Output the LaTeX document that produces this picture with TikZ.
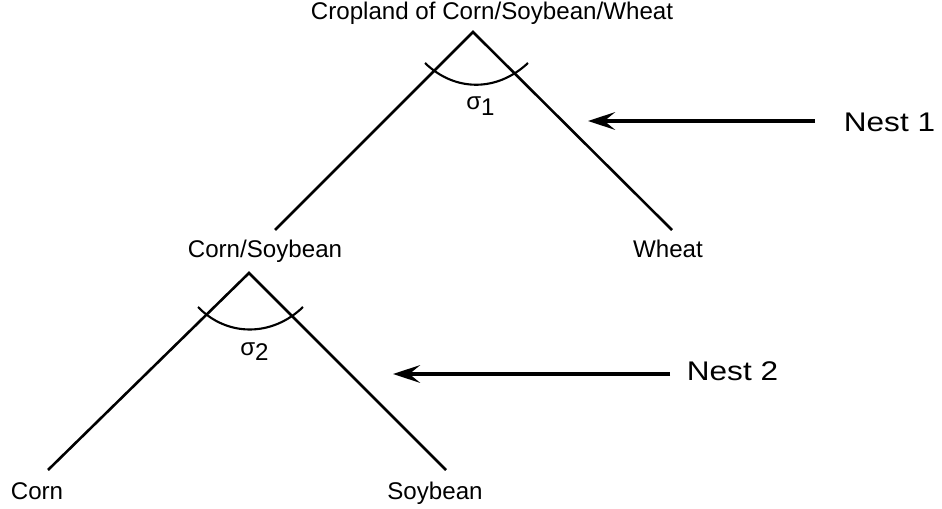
\documentclass[tikz,border=0pt]{standalone}
\usepackage{fontspec}
\setmainfont{Liberation Sans}
\newfontfamily\nestfont[FakeStretch=1.17]{Liberation Sans}
\usetikzlibrary{arrows.meta}
\tikzset{
	branch/.style={line width=2.2pt},
	sigmaarc/.style={line width=1.8pt},
	croptext/.style={anchor=base, inner sep=0pt, font=\fontsize{20.6}{24}\selectfont},
	nesttext/.style={anchor=base, inner sep=0pt, font=\nestfont\fontsize{23}{27}\selectfont},
	nestarrow/.style={line width=3.4pt, -{Stealth[length=23pt, width=15pt, inset=9pt]}}
}
\newcommand{\sigmasub}[1]{σ\raisebox{-4.3pt}{#1}}

\begin{document}
\begin{tikzpicture}[x=0.03cm, y=-0.03cm]
			%%%%% START %%%%%
			\useasboundingbox (0, 0) rectangle (942, 509);
			
			% nest 1
			\node[croptext] (cropland) at (492, 19.5) {Cropland of Corn/Soybean/Wheat};
			\coordinate (apexA) at (473, 32);
			\coordinate (cornsoyEnd) at (275, 230);
			\coordinate (wheatEnd) at (672, 230);
			\draw[branch] (cornsoyEnd) -- (apexA) -- (wheatEnd);
			\draw[sigmaarc] (425, 63) .. controls (455, 92) and (497, 92) .. (528, 63);
			\node[croptext] (sigmaA) at (480.5, 110) {\sigmasub{1}};
			\node[croptext] (cornsoy) at (265, 258) {Corn/Soybean};
			\node[croptext] (wheat) at (668, 258) {Wheat};
			
			% nest 2
			\coordinate (apexB) at (249, 273);
			\coordinate (cornEnd) at (48, 470);
			\coordinate (soyEnd) at (446, 470);
			\draw[branch] (cornEnd) -- (apexB) -- (soyEnd);
			\draw[sigmaarc] (198, 307) .. controls (227, 337) and (272, 337) .. (303, 307);
			\node[croptext] (sigmaB) at (254.5, 355) {\sigmasub{2}};
			\node[croptext] (corn) at (37, 499) {Corn};
			\node[croptext] (soybean) at (435, 499) {Soybean};
			
			% nest labels
			\node[nesttext] (nestA) at (889.5, 131.7) {Nest 1};
			\coordinate (tailA) at (815, 121);
			\coordinate (tipA) at (588, 121);
			\draw[nestarrow] (tailA) -- (tipA);
			
			\node[nesttext] (nestB) at (732.5, 380) {Nest 2};
			\coordinate (tailB) at (670, 374);
			\coordinate (tipB) at (393, 374);
			\draw[nestarrow] (tailB) -- (tipB);
			%%%%% END %%%%%
\end{tikzpicture}
\end{document}
